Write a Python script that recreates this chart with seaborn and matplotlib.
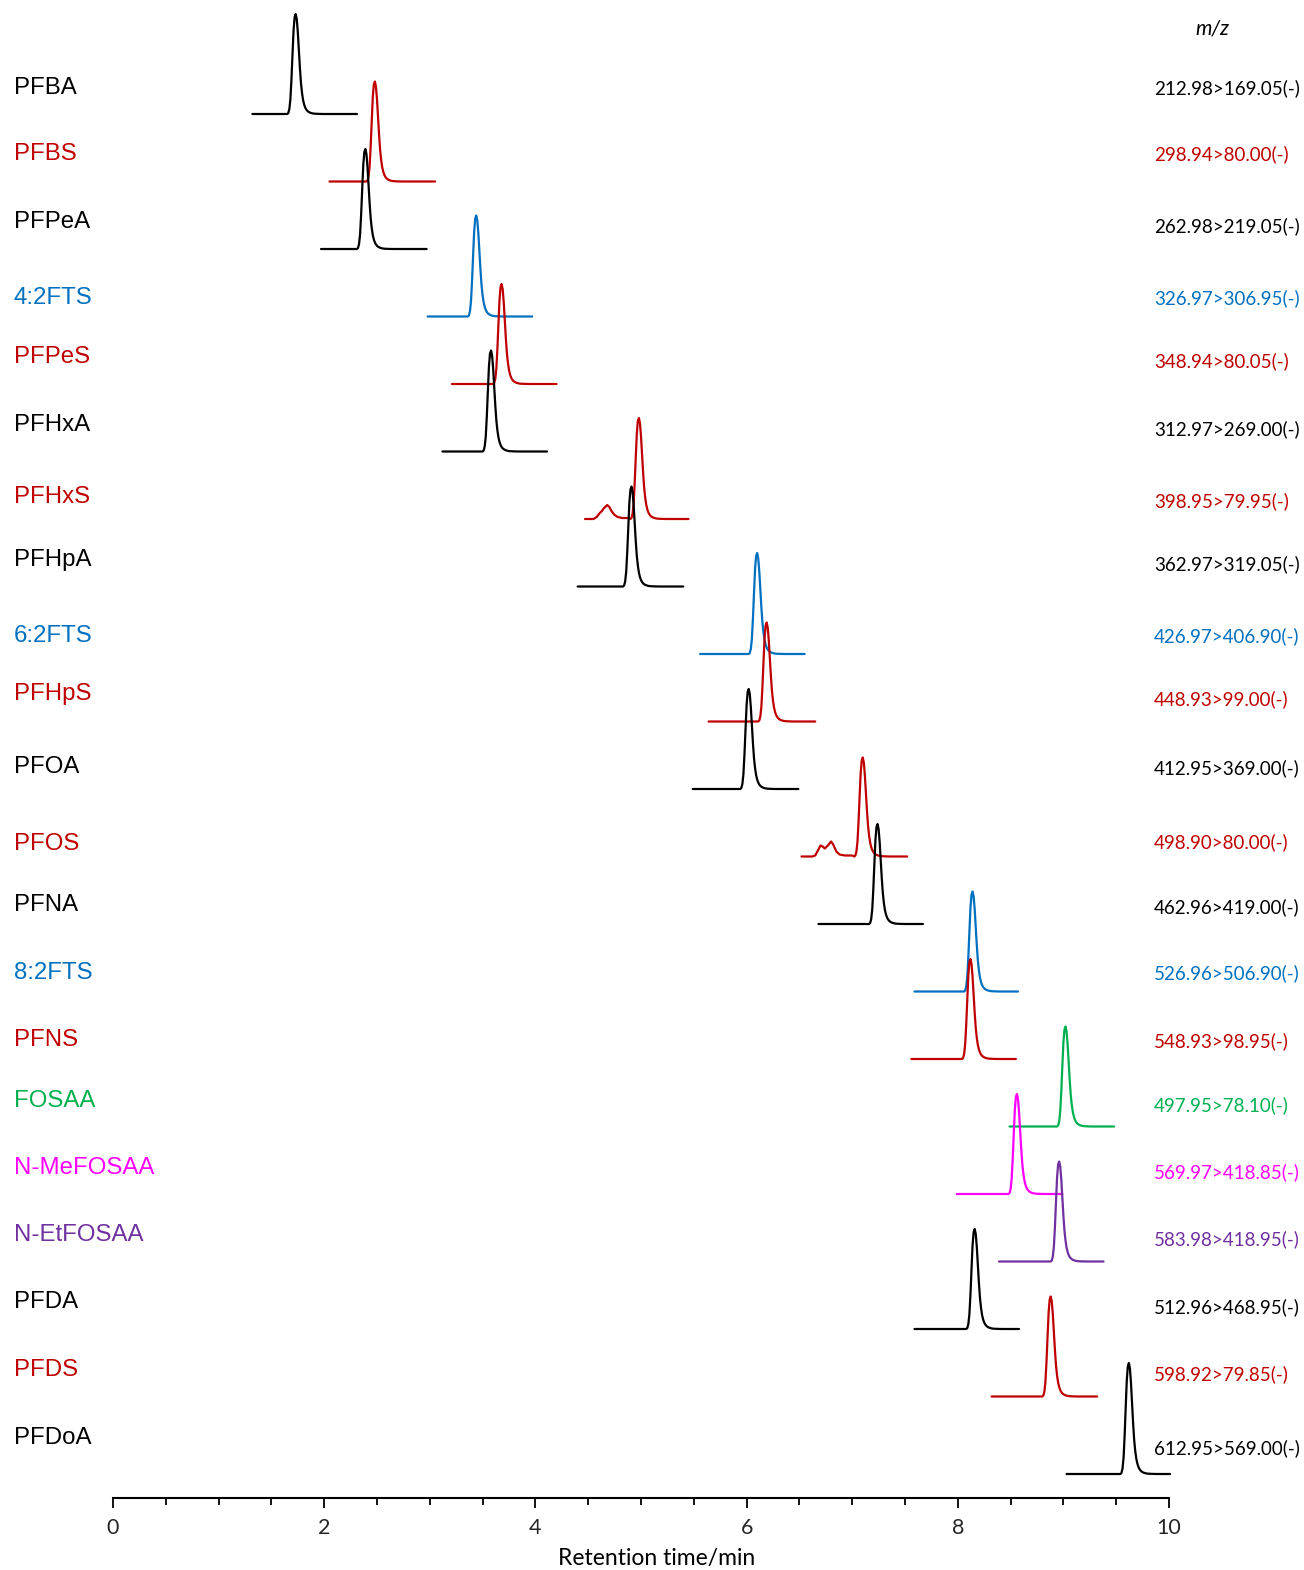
import numpy as np
import pandas as pd
import matplotlib
matplotlib.use("Agg")
import matplotlib.pyplot as plt
import seaborn as sns

# ---------------- data ----------------
compounds = ["PFBA", "PFBS", "PFPeA", "4:2FTS", "PFPeS", "PFHxA", "PFHxS", "PFHpA",
             "6:2FTS", "PFHpS", "PFOA", "PFOS", "PFNA", "8:2FTS", "PFNS", "FOSAA",
             "N-MeFOSAA", "N-EtFOSAA", "PFDA", "PFDS", "PFDoA"]
mz = ["212.98>169.05(-)", "298.94>80.00(-)", "262.98>219.05(-)", "326.97>306.95(-)",
      "348.94>80.05(-)", "312.97>269.00(-)", "398.95>79.95(-)", "362.97>319.05(-)",
      "426.97>406.90(-)", "448.93>99.00(-)", "412.95>369.00(-)", "498.90>80.00(-)",
      "462.96>419.00(-)", "526.96>506.90(-)", "548.93>98.95(-)", "497.95>78.10(-)",
      "569.97>418.85(-)", "583.98>418.95(-)", "512.96>468.95(-)", "598.92>79.85(-)",
      "612.95>569.00(-)"]
retention = [1.73, 2.48, 2.39, 3.44, 3.68, 3.58, 4.98, 4.91, 6.10, 6.19, 6.02, 7.10,
             7.24, 8.14, 8.12, 9.02, 8.56, 8.96, 8.16, 8.88, 9.62]
window_start = [1.32, 2.05, 1.97, 2.98, 3.21, 3.12, 4.47, 4.40, 5.56, 5.64, 5.49, 6.52,
                6.68, 7.59, 7.56, 8.49, 7.99, 8.39, 7.59, 8.32, 9.03]
window_end = [2.31, 3.05, 2.97, 3.97, 4.20, 4.11, 5.45, 5.40, 6.55, 6.65, 6.49, 7.52,
              7.67, 8.57, 8.55, 9.48, 8.99, 9.38, 8.58, 9.32, 10.01]
peak_height = [1.00, 1.00, 1.00, 1.01, 1.00, 1.01, 1.01, 1.00, 1.01, 0.99, 1.00, 0.99,
               1.00, 1.00, 1.00, 1.00, 1.00, 1.00, 1.00, 1.00, 1.11]
trace_color = ["#000000", "#C00000", "#000000", "#0070C0", "#C00000", "#000000", "#C00000",
               "#000000", "#0070C0", "#C00000", "#000000", "#C00000", "#000000", "#0070C0",
               "#C00000", "#00B050", "#FF00FF", "#7030A0", "#000000", "#C00000", "#000000"]

# normalized peak profile (offset from apex in min, relative height)
profile_dt = [-0.08, -0.07, -0.06, -0.05, -0.04, -0.03, -0.02, -0.01, 0.00, 0.01, 0.02,
              0.03, 0.04, 0.05, 0.06, 0.07, 0.08, 0.09, 0.10, 0.11, 0.12, 0.13, 0.14,
              0.15, 0.16, 0.18, 0.22, 0.26]
profile_h = [0.000, 0.010, 0.050, 0.150, 0.350, 0.600, 0.840, 0.970, 1.000, 0.950, 0.820,
             0.640, 0.460, 0.310, 0.210, 0.140, 0.095, 0.065, 0.045, 0.032, 0.023, 0.017,
             0.012, 0.009, 0.006, 0.003, 0.001, 0.000]

# small early bumps (absolute time, relative height)
pfhxs_bump_t = [4.55, 4.58, 4.61, 4.63, 4.65, 4.68, 4.70, 4.72, 4.75, 4.78, 4.82, 4.88]
pfhxs_bump_h = [0.00, 0.02, 0.06, 0.08, 0.11, 0.14, 0.12, 0.08, 0.04, 0.02, 0.01, 0.01]
pfos_bump_t = [6.62, 6.65, 6.68, 6.70, 6.72, 6.74, 6.77, 6.80, 6.82, 6.85, 6.88, 6.93, 7.00]
pfos_bump_h = [0.00, 0.01, 0.07, 0.11, 0.10, 0.08, 0.11, 0.15, 0.12, 0.05, 0.02, 0.01, 0.01]
bumps = {"PFHxS": (pfhxs_bump_t, pfhxs_bump_h), "PFOS": (pfos_bump_t, pfos_bump_h)}

x_ticks = [0, 2, 4, 6, 8, 10]

# ---------------- layout ----------------
W, H = 1304, 1570
PX = 100.0                     # pixels per unit of signal
lane_px = [114 + 67.5 * i for i in range(len(compounds))]
lane_px[-1] += 10
label_y = [88, 154, 222, 298, 357, 425, 497, 560, 636, 694, 767, 844, 905, 973, 1040,
           1101, 1168, 1235, 1302, 1370, 1438]
mz_y = [88, 154, 226, 298, 361, 429, 501, 564, 636, 699, 768, 842, 907, 973, 1041, 1105,
        1172, 1239, 1307, 1374, 1448]
axis_px = 1498

# ---------------- build table ----------------
rows = []
for i, name in enumerate(compounds):
    base = -lane_px[i] / PX
    ts = [window_start[i]]
    hs = [0.0]
    if name in bumps:
        bt, bh = bumps[name]
        ts += list(bt)
        hs += list(bh)
    ts += [retention[i] + d for d in profile_dt]
    hs += [h * peak_height[i] for h in profile_h]
    ts.append(window_end[i])
    hs.append(0.0)
    for k, (t, h) in enumerate(zip(ts, hs)):
        rows.append({"compound": name, "order": k, "time": t, "signal": base + h})
df = pd.DataFrame(rows)

# ---------------- draw ----------------
sns.set_theme(style="white")
plt.rcParams["font.family"] = ["Lato", "DejaVu Sans"]

fig = plt.figure(figsize=(W / 100, H / 100), dpi=100)
ax = fig.add_axes([113 / W, (H - axis_px) / H, 1056 / W, axis_px / H])

palette = dict(zip(compounds, trace_color))
sns.lineplot(data=df, x="time", y="signal", hue="compound", hue_order=compounds,
             palette=palette, estimator=None, sort=False, legend=False,
             linewidth=1.6, ax=ax)
for ln in ax.lines:
    ln.set_clip_on(False)

ax.set_xlim(0, 10)
ax.set_ylim(-axis_px / PX, 0)
ax.set_yticks([])
ax.set_ylabel("")
ax.set_xlabel("")
for s in ["top", "left", "right"]:
    ax.spines[s].set_visible(False)
ax.spines["bottom"].set_linewidth(1.5)
ax.spines["bottom"].set_color("black")
ax.set_xticks(x_ticks)
ax.set_xticklabels([str(t) for t in x_ticks])
ax.set_xticks(np.arange(0, 10.01, 0.5), minor=True)
ax.tick_params(axis="x", which="major", direction="out", length=7.5, width=1.3,
               color="black", labelsize=15.5, pad=7, bottom=True)
ax.tick_params(axis="x", which="minor", direction="out", length=5, width=1.3,
               color="black", bottom=True)
ax.patch.set_alpha(0)

for i, name in enumerate(compounds):
    fig.text(14 / W, 1 - label_y[i] / H, name, color=trace_color[i],
             family=["Liberation Sans", "DejaVu Sans"], fontsize=17.3,
             ha="left", va="center")
    fig.text(1154 / W, 1 - mz_y[i] / H, mz[i], color=trace_color[i],
             fontsize=13.5, ha="left", va="center")

fig.text(1212 / W, 1 - 28 / H, "m/z", style="italic", fontsize=15,
         ha="center", va="center", color="black")
fig.text(657 / W, 1 - 1559 / H, "Retention time/min", fontsize=16.5,
         ha="center", va="center", color="black")

fig.savefig("out.png", dpi=100)
